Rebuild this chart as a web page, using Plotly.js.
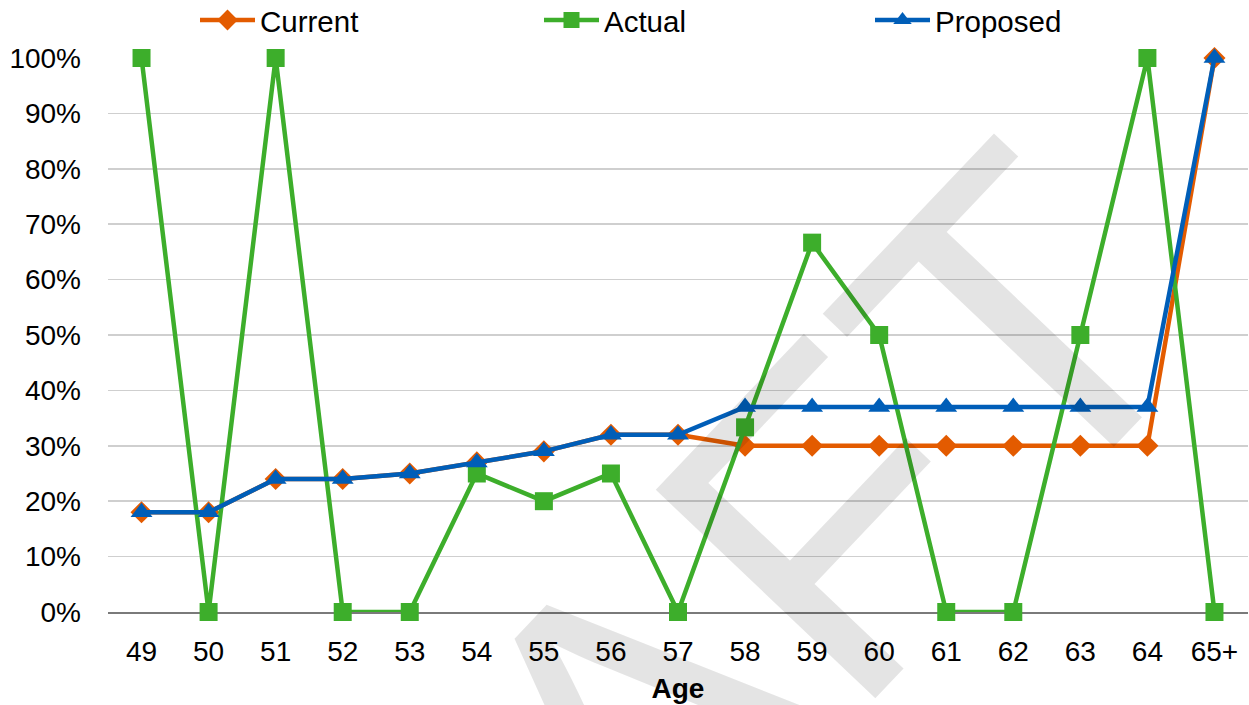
<!DOCTYPE html>
<html>
<head>
<meta charset="utf-8">
<script src="https://cdn.plot.ly/plotly-3.0.1.min.js"></script>
<style>
  html, body { margin: 0; padding: 0; background: #ffffff; }
  #chart { width: 1249px; height: 705px; }
</style>
</head>
<body>
<div id="chart"></div>
<script>
// ---- data ----
var ages = ["49", "50", "51", "52", "53", "54", "55", "56", "57", "58", "59", "60", "61", "62", "63", "64", "65+"];
var current  = [0.18, 0.18, 0.24, 0.24, 0.25, 0.27, 0.29, 0.32, 0.32, 0.30, 0.30, 0.30, 0.30, 0.30, 0.30, 0.30, 1.00];
var actual   = [1.00, 0.00, 1.00, 0.00, 0.00, 0.25, 0.20, 0.25, 0.00, 0.3333, 0.6667, 0.50, 0.00, 0.00, 0.50, 1.00, 0.00];
var proposed = [0.18, 0.18, 0.24, 0.24, 0.25, 0.27, 0.29, 0.32, 0.32, 0.37, 0.37, 0.37, 0.37, 0.37, 0.37, 0.37, 1.00];
var yTickVals = [0, 0.1, 0.2, 0.3, 0.4, 0.5, 0.6, 0.7, 0.8, 0.9, 1.0];
var yTickText = ["0%", "10%", "20%", "30%", "40%", "50%", "60%", "70%", "80%", "90%", "100%"];
var xTitle = "Age";
var watermark = "DRAFT";

var FONT = "Liberation Sans, Arial, sans-serif";

var traces = [
  { x: ages, y: current, name: "Current", type: "scatter", mode: "lines+markers", legend: "legend",
    line: { color: "#E35B00", width: 4.5 },
    marker: { symbol: "diamond", size: 17, color: "#E35B00" },
    cliponaxis: false },
  { x: ages, y: actual, name: "Actual", type: "scatter", mode: "lines+markers", legend: "legend2",
    line: { color: "#3DAE2B", width: 4.5 },
    marker: { symbol: "square", size: 18, color: "#3DAE2B" },
    cliponaxis: false },
  { x: ages, y: proposed, name: "Proposed", type: "scatter", mode: "lines+markers", legend: "legend3",
    line: { color: "#005EB8", width: 4.5 },
    marker: { symbol: "triangle-up", size: 19, color: "#005EB8" },
    cliponaxis: false }
];

function leg(xpx) {
  return {
    orientation: "h", x: (xpx - 108) / 1140, xanchor: "left", y: 1.068, yanchor: "middle",
    font: { family: FONT, size: 29.5, color: "#000000" },
    itemwidth: 55, bgcolor: "rgba(0,0,0,0)"
  };
}

var layout = {
  width: 1249, height: 705,
  margin: { l: 108, r: 1, t: 58, b: 93, pad: 0, autoexpand: false },
  paper_bgcolor: "#ffffff", plot_bgcolor: "#ffffff",
  font: { family: FONT, size: 28, color: "#000000" },
  showlegend: true,
  legend: leg(195),
  legend2: leg(539),
  legend3: leg(870),
  xaxis: {
    type: "category", range: [-0.5, 16.5],
    showgrid: false, zeroline: false,
    showline: true, linecolor: "#7a7a7a", linewidth: 1.5, layer: "below traces",
    ticks: "", ticklabelstandoff: 14,
    tickfont: { family: FONT, size: 28, color: "#000000" },
    title: { text: "<b>" + xTitle + "</b>", font: { family: FONT, size: 28, color: "#000000" }, standoff: 12 }
  },
  yaxis: {
    range: [0, 1], tickvals: yTickVals, ticktext: yTickText,
    showgrid: true, gridcolor: "#cfcfcf", gridwidth: 1.5,
    zeroline: false, showline: false, ticks: "", ticklabelstandoff: 26,
    tickfont: { family: FONT, size: 28, color: "#000000" },
    layer: "below traces"
  },
  annotations: [{
    text: watermark, xref: "paper", yref: "paper", x: 0.436, y: -0.27,
    xanchor: "center", yanchor: "middle", showarrow: false, textangle: -46.5,
    font: { family: FONT, size: 440, color: "rgba(0,0,0,0.105)" }
  }]
};

Plotly.newPlot("chart", traces, layout, { displayModeBar: false, staticPlot: true });
</script>
</body>
</html>
